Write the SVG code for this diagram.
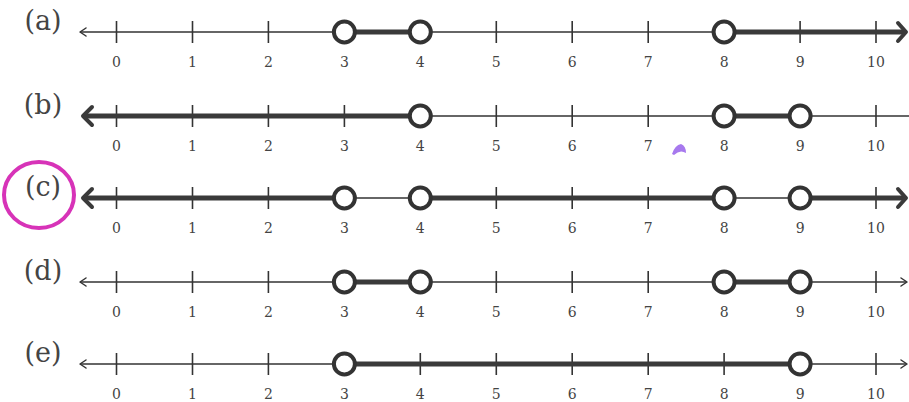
<svg xmlns="http://www.w3.org/2000/svg" width="909" height="402" viewBox="0 0 909 402">
<style>
.thin{stroke:#333;stroke-width:1.5;fill:none}
.thick{stroke:#3a3a3a;stroke-width:5;fill:none}
.tick{stroke:#333;stroke-width:1.6}
.ah{stroke:#333;stroke-width:1.5;fill:none;stroke-linecap:round;stroke-linejoin:round}
.ahT{stroke:#3a3a3a;stroke-width:4;fill:none;stroke-linecap:round;stroke-linejoin:round}
.oc{fill:#fff;stroke:#333;stroke-width:4}
.num{font-family:"DejaVu Serif","Liberation Serif",serif;font-size:14px;fill:#444;text-anchor:middle}
.lab{font-family:"DejaVu Serif","Liberation Serif",serif;font-size:27px;fill:#444;text-anchor:middle}
</style>
<defs>
<g id="ticks">
<line class="tick" x1="116.5" y1="-11" x2="116.5" y2="11"/>
<line class="tick" x1="192.5" y1="-11" x2="192.5" y2="11"/>
<line class="tick" x1="268.4" y1="-11" x2="268.4" y2="11"/>
<line class="tick" x1="344.4" y1="-11" x2="344.4" y2="11"/>
<line class="tick" x1="420.3" y1="-11" x2="420.3" y2="11"/>
<line class="tick" x1="496.3" y1="-11" x2="496.3" y2="11"/>
<line class="tick" x1="572.2" y1="-11" x2="572.2" y2="11"/>
<line class="tick" x1="648.2" y1="-11" x2="648.2" y2="11"/>
<line class="tick" x1="724.1" y1="-11" x2="724.1" y2="11"/>
<line class="tick" x1="800.1" y1="-11" x2="800.1" y2="11"/>
<line class="tick" x1="876" y1="-11" x2="876" y2="11"/>
<text class="num" x="116.5" y="35">0</text>
<text class="num" x="192.5" y="35">1</text>
<text class="num" x="268.4" y="35">2</text>
<text class="num" x="344.4" y="35">3</text>
<text class="num" x="420.3" y="35">4</text>
<text class="num" x="496.3" y="35">5</text>
<text class="num" x="572.2" y="35">6</text>
<text class="num" x="648.2" y="35">7</text>
<text class="num" x="724.1" y="35">8</text>
<text class="num" x="800.1" y="35">9</text>
<text class="num" x="876" y="35">10</text>
</g>
</defs>
<rect width="909" height="402" fill="#fff"/>

<g id="row-a" transform="translate(0,32)">
<text class="lab" x="43" y="-2">(a)</text>
<line class="thin" x1="80" y1="0" x2="724" y2="0"/>
<path class="ah" d="M86,-4 L80,0 L86,4"/>
<use href="#ticks"/>
<line class="thick" x1="344.4" y1="0" x2="420.3" y2="0"/>
<line class="thick" x1="724.1" y1="0" x2="905" y2="0"/>
<path class="ahT" d="M898,-9 L906,0 L898,9"/>
<circle class="oc" cx="344.4" cy="0" r="10.5"/>
<circle class="oc" cx="420.3" cy="0" r="10.5"/>
<circle class="oc" cx="724.1" cy="0" r="10.5"/>
</g>

<g id="row-b" transform="translate(0,116)">
<text class="lab" x="43" y="-2">(b)</text>
<line class="thin" x1="420" y1="0" x2="909" y2="0"/>
<use href="#ticks"/>
<line class="thick" x1="85" y1="0" x2="420.3" y2="0"/>
<path class="ahT" d="M92,-9 L83,0 L92,9"/>
<line class="thick" x1="724.1" y1="0" x2="800.1" y2="0"/>
<circle class="oc" cx="420.3" cy="0" r="10.5"/>
<circle class="oc" cx="724.1" cy="0" r="10.5"/>
<circle class="oc" cx="800.1" cy="0" r="10.5"/>
</g>

<g id="row-c" transform="translate(0,198)">
<text class="lab" x="43" y="-2">(c)</text>
<line class="thin" x1="344" y1="0" x2="800" y2="0"/>
<use href="#ticks"/>
<line class="thick" x1="85" y1="0" x2="344.4" y2="0"/>
<path class="ahT" d="M92,-9 L83,0 L92,9"/>
<line class="thick" x1="420.3" y1="0" x2="724.1" y2="0"/>
<line class="thick" x1="800.1" y1="0" x2="905" y2="0"/>
<path class="ahT" d="M898,-9 L906,0 L898,9"/>
<circle class="oc" cx="344.4" cy="0" r="10.5"/>
<circle class="oc" cx="420.3" cy="0" r="10.5"/>
<circle class="oc" cx="724.1" cy="0" r="10.5"/>
<circle class="oc" cx="800.1" cy="0" r="10.5"/>
</g>

<g id="row-d" transform="translate(0,282)">
<text class="lab" x="43" y="-2">(d)</text>
<line class="thin" x1="80" y1="0" x2="906" y2="0"/>
<path class="ah" d="M86,-4 L80,0 L86,4"/>
<path class="ah" d="M901,-4 L907,0 L901,4"/>
<use href="#ticks"/>
<line class="thick" x1="344.4" y1="0" x2="420.3" y2="0"/>
<line class="thick" x1="724.1" y1="0" x2="800.1" y2="0"/>
<circle class="oc" cx="344.4" cy="0" r="10.5"/>
<circle class="oc" cx="420.3" cy="0" r="10.5"/>
<circle class="oc" cx="724.1" cy="0" r="10.5"/>
<circle class="oc" cx="800.1" cy="0" r="10.5"/>
</g>

<g id="row-e" transform="translate(0,364)">
<text class="lab" x="43" y="-2">(e)</text>
<line class="thin" x1="80" y1="0" x2="906" y2="0"/>
<path class="ah" d="M86,-4 L80,0 L86,4"/>
<path class="ah" d="M901,-4 L907,0 L901,4"/>
<use href="#ticks"/>
<line class="thick" x1="344.4" y1="0" x2="800.1" y2="0"/>
<circle class="oc" cx="344.4" cy="0" r="10.5"/>
<circle class="oc" cx="800.1" cy="0" r="10.5"/>
</g>

<g id="connectors"></g>

<g id="marks">
<ellipse cx="39" cy="195" rx="35" ry="33" fill="none" stroke="#d733b8" stroke-width="4"/>
<path d="M672,154 Q675,145 681,144 Q686,146 686,153 Q680,149 674,155 Z" fill="#a779ee"/>
</g>
</svg>
